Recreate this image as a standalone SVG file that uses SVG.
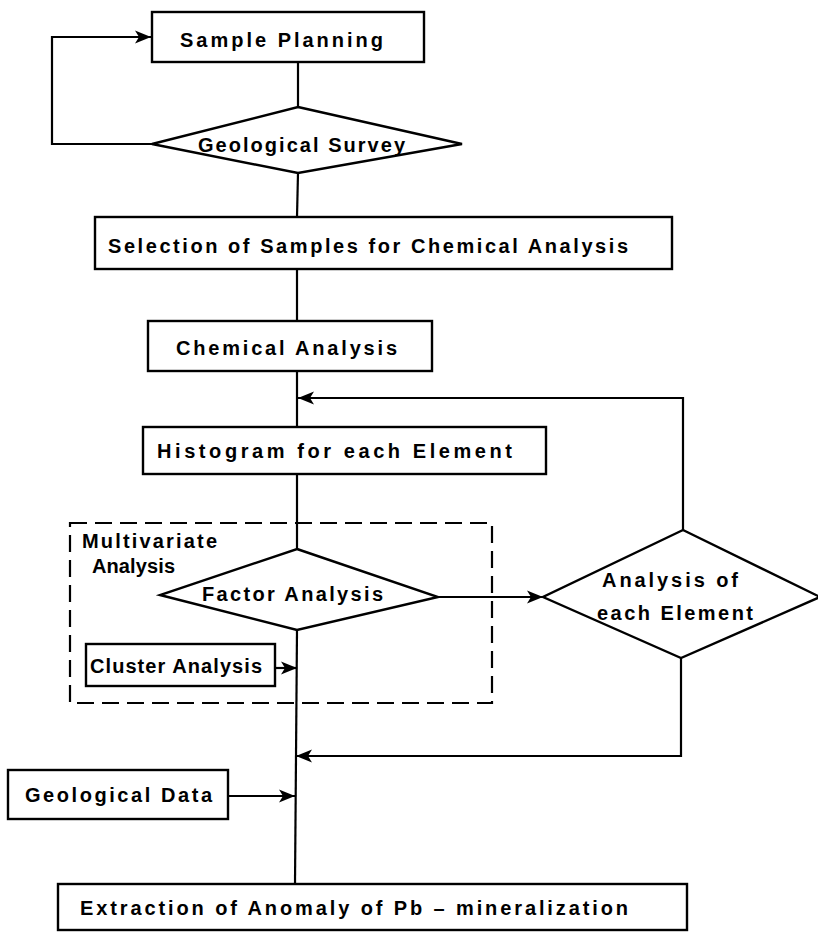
<svg xmlns="http://www.w3.org/2000/svg" width="818" height="934" viewBox="0 0 818 934">
  <style>
    .box { fill: #fff; stroke: #000; stroke-width: 2.4; }
    .dia { fill: #fff; stroke: #000; stroke-width: 2.4; stroke-linejoin: miter; }
    .ln { fill: none; stroke: #000; stroke-width: 2.2; }
    .dash { fill: none; stroke: #000; stroke-width: 2.2; stroke-dasharray: 17 8; }
    .lbl { font-family: "Liberation Sans", Arial, sans-serif; font-size: 20px; font-weight: bold; fill: #000; }
  </style>
  <defs>
    <marker id="arr" markerUnits="userSpaceOnUse" viewBox="0 -7 16 14" refX="16" refY="0" markerWidth="16" markerHeight="14" orient="auto">
      <path d="M0,-6.5 L16,0 L0,6.5 L4,0 Z" fill="#000"/>
    </marker>
  </defs>
  <rect width="818" height="934" fill="#fff"/>

  <!-- connectors -->
  <g id="connectors">
    <line class="ln" x1="298" y1="62" x2="298" y2="107"/>
    <polyline class="ln" points="152,144 52,144 52,37 151,37" marker-end="url(#arr)"/>
    <line class="ln" x1="298" y1="173" x2="297" y2="217"/>
    <line class="ln" x1="297" y1="269" x2="297" y2="321"/>
    <line class="ln" x1="297" y1="371" x2="297" y2="427"/>
    <line class="ln" x1="297" y1="474" x2="297" y2="549"/>
    <line class="ln" x1="297" y1="630" x2="295" y2="884"/>
    <polyline class="ln" points="683,530 683,398 298,398" marker-end="url(#arr)"/>
    <line class="ln" x1="438" y1="597" x2="543" y2="597" marker-end="url(#arr)"/>
    <polyline class="ln" points="681,658 681,756 296,756" marker-end="url(#arr)"/>
    <line class="ln" x1="275" y1="668" x2="297" y2="668" marker-end="url(#arr)"/>
    <line class="ln" x1="228" y1="796" x2="295" y2="796" marker-end="url(#arr)"/>
  </g>

  <!-- multivariate analysis grouping -->
  <g id="multivariate">
    <rect class="dash" x="70" y="523" width="422" height="180"/>
    <text class="lbl" x="82" y="548" textLength="135" lengthAdjust="spacing">Multivariate</text>
    <text class="lbl" x="92" y="573" textLength="83" lengthAdjust="spacing">Analysis</text>
  </g>

  <g id="sample-planning">
    <rect class="box" x="152" y="12" width="272" height="50"/>
    <text class="lbl" x="180" y="47" textLength="203" lengthAdjust="spacing">Sample Planning</text>
  </g>

  <g id="geological-survey">
    <polygon class="dia" points="298,107 462,144 298,173 152,144"/>
    <text class="lbl" x="198" y="152" textLength="207" lengthAdjust="spacing">Geological Survey</text>
  </g>

  <g id="selection">
    <rect class="box" x="95" y="217" width="577" height="52"/>
    <text class="lbl" x="108" y="253" textLength="520" lengthAdjust="spacing">Selection of Samples for Chemical Analysis</text>
  </g>

  <g id="chemical-analysis">
    <rect class="box" x="148" y="321" width="284" height="50"/>
    <text class="lbl" x="176" y="355" textLength="221" lengthAdjust="spacing">Chemical Analysis</text>
  </g>

  <g id="histogram">
    <rect class="box" x="143" y="427" width="403" height="47"/>
    <text class="lbl" x="157" y="458" textLength="355" lengthAdjust="spacing">Histogram for each Element</text>
  </g>

  <g id="factor-analysis">
    <polygon class="dia" points="297,549 438,597 297,630 160,595"/>
    <text class="lbl" x="202" y="601" textLength="181" lengthAdjust="spacing">Factor Analysis</text>
  </g>

  <g id="cluster-analysis">
    <rect class="box" x="86" y="644" width="189" height="42"/>
    <text class="lbl" x="90" y="673" textLength="172" lengthAdjust="spacing">Cluster Analysis</text>
  </g>

  <g id="element-analysis">
    <polygon class="dia" points="683,530 820,597 681,658 543,597"/>
    <text class="lbl" x="602" y="587" textLength="136" lengthAdjust="spacing">Analysis of</text>
    <text class="lbl" x="597" y="620" textLength="156" lengthAdjust="spacing">each Element</text>
  </g>

  <g id="geological-data">
    <rect class="box" x="8" y="770" width="220" height="49"/>
    <text class="lbl" x="25" y="802" textLength="187" lengthAdjust="spacing">Geological Data</text>
  </g>

  <g id="extraction">
    <rect class="box" x="58" y="884" width="629" height="46"/>
    <text class="lbl" x="80" y="915" textLength="548" lengthAdjust="spacing">Extraction of Anomaly of Pb – mineralization</text>
  </g>
</svg>
